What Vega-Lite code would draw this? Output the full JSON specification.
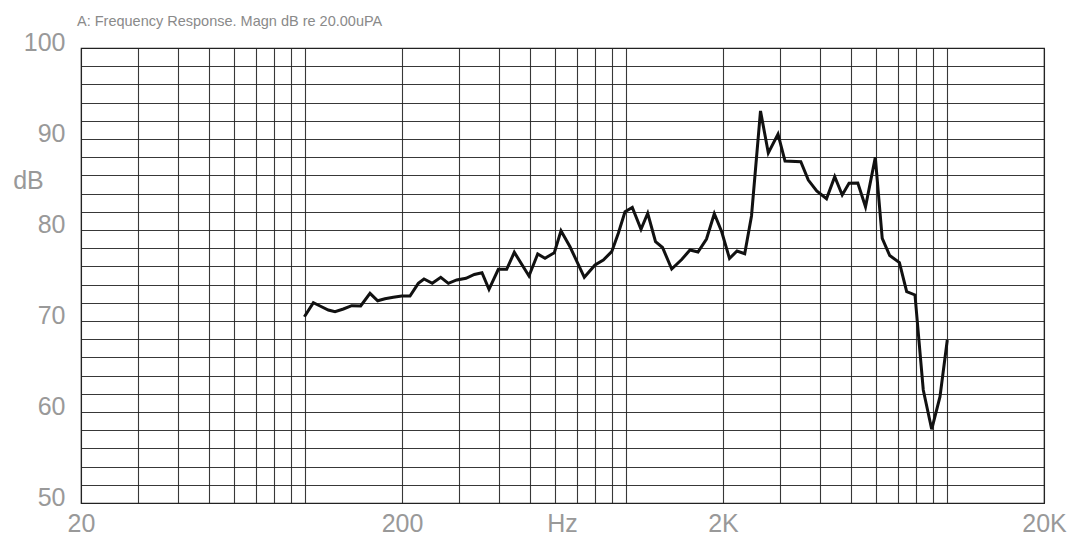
{
  "$schema": "https://vega.github.io/schema/vega-lite/v6.json",
  "autosize": {"type": "none"},
  "padding": {"left": 81, "top": 48, "right": 31, "bottom": 36},
  "width": 963,
  "height": 455,
  "background": "white",
  "title": {
    "text": "A: Frequency Response. Magn dB re 20.00uPA",
    "anchor": "start",
    "frame": "group",
    "font": "Liberation Sans",
    "fontSize": 14.5,
    "fontWeight": "normal",
    "color": "#8a8a8a",
    "dx": -4,
    "dy": 19,
    "offset": 20
  },
  "config": {
    "view": {"stroke": "#222", "strokeWidth": 1.2},
    "axis": {
      "labelFont": "Liberation Sans",
      "labelFontSize": 25,
      "labelColor": "#999",
      "titleFont": "Liberation Sans",
      "titleFontSize": 25,
      "titleFontWeight": "normal",
      "titleColor": "#999",
      "gridColor": "#222",
      "gridOpacity": 0.9,
      "gridWidth": 1.1,
      "ticks": false,
      "domain": false,
      "labelOverlap": false,
      "labelFlush": false
    }
  },
  "data": {
    "values": [
      {"freq": 99.3, "db": 70.47},
      {"freq": 105.9, "db": 72.01},
      {"freq": 111.1, "db": 71.65},
      {"freq": 117.9, "db": 71.21},
      {"freq": 123.7, "db": 71.02},
      {"freq": 131.3, "db": 71.32},
      {"freq": 139.4, "db": 71.68},
      {"freq": 148.7, "db": 71.65},
      {"freq": 159.0, "db": 73.04},
      {"freq": 168.0, "db": 72.23},
      {"freq": 177.0, "db": 72.45},
      {"freq": 187.9, "db": 72.6},
      {"freq": 199.6, "db": 72.75},
      {"freq": 211.8, "db": 72.75},
      {"freq": 224.8, "db": 74.14},
      {"freq": 234.2, "db": 74.62},
      {"freq": 248.5, "db": 74.14},
      {"freq": 264.1, "db": 74.8},
      {"freq": 278.9, "db": 74.14},
      {"freq": 296.1, "db": 74.51},
      {"freq": 316.5, "db": 74.69},
      {"freq": 336.1, "db": 75.11},
      {"freq": 355.0, "db": 75.31},
      {"freq": 373.3, "db": 73.48},
      {"freq": 399.1, "db": 75.68},
      {"freq": 423.8, "db": 75.68},
      {"freq": 447.6, "db": 77.55},
      {"freq": 497.3, "db": 74.95},
      {"freq": 529.4, "db": 77.36},
      {"freq": 557.9, "db": 76.89},
      {"freq": 596.3, "db": 77.51},
      {"freq": 625.7, "db": 79.92},
      {"freq": 667.4, "db": 78.16},
      {"freq": 739.6, "db": 74.8},
      {"freq": 798.7, "db": 76.15},
      {"freq": 847.6, "db": 76.7},
      {"freq": 900.2, "db": 77.62},
      {"freq": 943.9, "db": 79.64},
      {"freq": 990.3, "db": 82.01},
      {"freq": 1043.5, "db": 82.49},
      {"freq": 1110.7, "db": 80.08},
      {"freq": 1165.5, "db": 81.84},
      {"freq": 1232.6, "db": 78.71},
      {"freq": 1296.1, "db": 78.08},
      {"freq": 1384.3, "db": 75.71},
      {"freq": 1487.1, "db": 76.76},
      {"freq": 1578.2, "db": 77.8},
      {"freq": 1671.5, "db": 77.58},
      {"freq": 1776.5, "db": 79.01},
      {"freq": 1879.1, "db": 81.79},
      {"freq": 1981.4, "db": 79.81},
      {"freq": 2095.4, "db": 76.87},
      {"freq": 2211.4, "db": 77.69},
      {"freq": 2337.0, "db": 77.4},
      {"freq": 2453.6, "db": 81.54},
      {"freq": 2617.4, "db": 93.08},
      {"freq": 2768.2, "db": 88.46},
      {"freq": 2967.6, "db": 90.53},
      {"freq": 3120.6, "db": 87.58},
      {"freq": 3494.8, "db": 87.51},
      {"freq": 3688.2, "db": 85.49},
      {"freq": 3917.2, "db": 84.29},
      {"freq": 4202.6, "db": 83.44},
      {"freq": 4457.4, "db": 85.86},
      {"freq": 4703.8, "db": 83.85},
      {"freq": 4939.0, "db": 85.13},
      {"freq": 5260.0, "db": 85.16},
      {"freq": 5558.8, "db": 82.56},
      {"freq": 5964.2, "db": 87.98},
      {"freq": 6267.0, "db": 79.07},
      {"freq": 6613.0, "db": 77.2},
      {"freq": 7089.6, "db": 76.41},
      {"freq": 7468.6, "db": 73.22},
      {"freq": 7926.8, "db": 72.86},
      {"freq": 8413.0, "db": 62.42},
      {"freq": 8936.4, "db": 58.1},
      {"freq": 9484.8, "db": 61.68},
      {"freq": 9994.0, "db": 67.91}
    ]
  },
  "mark": {"type": "line", "color": "#111", "strokeWidth": 3, "strokeJoin": "miter", "clip": true},
  "encoding": {
    "x": {
      "field": "freq",
      "type": "quantitative",
      "scale": {"type": "log", "domain": [20, 20000], "nice": false},
      "axis": {
        "values": [20, 30, 40, 50, 60, 70, 80, 90, 100, 200, 300, 400, 500, 600, 700, 800, 900, 1000, 2000, 3000, 4000, 5000, 6000, 7000, 8000, 9000, 10000, 20000],
        "labelExpr": "datum.value == 20 ? '20' : datum.value == 200 ? '200' : datum.value == 2000 ? '2K' : datum.value == 20000 ? '20K' : ''",
        "labelPadding": 8,
        "labelBaseline": "top",
        "title": "Hz",
        "titleX": 481,
        "titleY": 8,
        "titleAlign": "center",
        "titleBaseline": "top",
        "titleAnchor": null
      }
    },
    "y": {
      "field": "db",
      "type": "quantitative",
      "scale": {"domain": [50, 100], "nice": false, "zero": false},
      "axis": {
        "values": [50, 52, 54, 56, 58, 60, 62, 64, 66, 68, 70, 72, 74, 76, 78, 80, 82, 84, 86, 88, 90, 92, 94, 96, 98, 100],
        "labelExpr": "datum.value % 10 == 0 ? datum.label : ''",
        "labelPadding": 16,
        "labelOffset": -6,
        "title": "dB",
        "titleAngle": 0,
        "titleX": -53,
        "titleY": 132,
        "titleAlign": "center",
        "titleBaseline": "middle"
      }
    }
  }
}
